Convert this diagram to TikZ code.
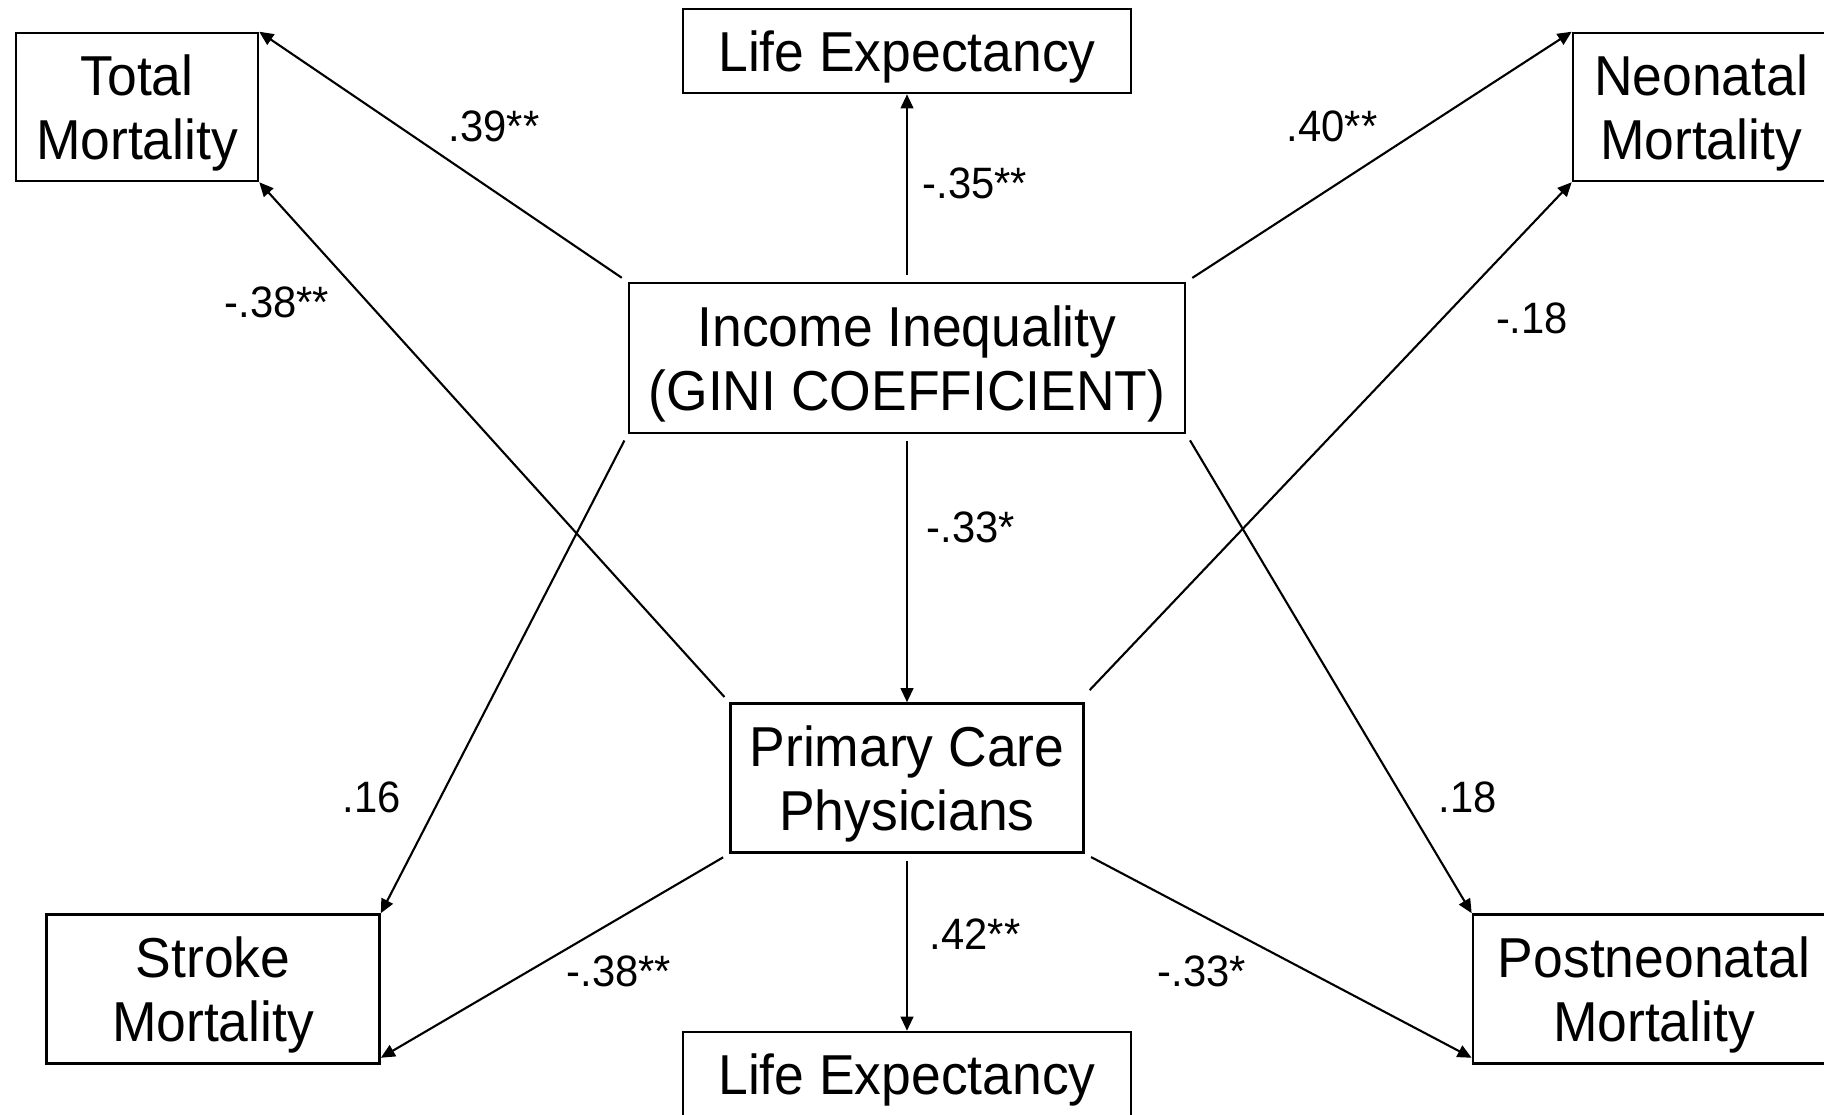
\documentclass[tikz,border=0pt]{standalone}
\usepackage{fontspec}
\setmainfont{Liberation Sans}[FakeStretch=0.95]
\usetikzlibrary{arrows.meta}

\begin{document}
\begin{tikzpicture}[x=0.01cm,y=-0.01cm,
  box/.style={draw,line width=0.7pt,align=center,inner sep=0pt,
    font=\fontsize{16}{18.2}\selectfont},
  oneline/.style={box,text height=15pt},
  twoline/.style={box,text height=33.2pt},
  link/.style={line width=0.6pt,shorten <=2pt,-{Triangle[length=4pt,width=3.6pt]}},
  coef/.style={inner sep=0pt,font=\fontsize{12.5}{15}\selectfont}]
\useasboundingbox (0,0) rectangle (1824,1114);
\clip (0,0) rectangle (1824,1114);
% boxes
\node[twoline,minimum width=2.42cm,minimum height=1.48cm] (totm) at (137,107) {Total\\Mortality};
\node[oneline,minimum width=4.48cm,minimum height=0.84cm] (lifeup) at (907,51) {Life Expectancy};
\node[twoline,minimum width=2.56cm,minimum height=1.48cm] (neom) at (1701,107) {Neonatal\\Mortality};
\node[twoline,minimum width=5.56cm,minimum height=1.50cm] (gini) at (907,358) {Income Inequality\\(GINI COEFFICIENT)};
\node[twoline,minimum width=3.53cm,minimum height=1.49cm] (pcp) at (907,778) {Primary Care\\Physicians};
\node[twoline,minimum width=3.33cm,minimum height=1.49cm] (strm) at (213,989) {Stroke\\Mortality};
\node[twoline,minimum width=3.62cm,minimum height=1.49cm] (postm) at (1654,989) {Postneonatal\\Mortality};
\node[oneline,minimum width=4.48cm,minimum height=0.84cm] (lifedown) at (907,1074) {Life Expectancy};
% paths from income inequality
\draw[link] (gini.north west) -- (totm.north east);
\draw[link] (gini.north) -- (lifeup.south);
\draw[link] (gini.north east) -- (neom.north west);
\draw[link] (gini.south) -- (pcp.north);
\draw[link] (gini.south west) -- (strm.north east);
\draw[link] (gini.south east) -- (postm.north west);
% paths from primary care
\draw[link] (pcp.north west) -- (totm.south east);
\draw[link] ([yshift=2pt]pcp.north east) -- (neom.south west);
\draw[link] (pcp.south west) -- ([yshift=2pt]strm.south east);
\draw[link] (pcp.south) -- (lifedown.north);
\draw[link] (pcp.south east) -- ([yshift=2pt]postm.south west);
% coefficients
\node[coef] (c1) at (494,126) {.39**};
\node[coef] (c2) at (277,302) {-.38**};
\node[coef] (c3) at (975,183) {-.35**};
\node[coef] (c4) at (1332,126) {.40**};
\node[coef] (c5) at (1532,318) {-.18};
\node[coef] (c6) at (971,527) {-.33*};
\node[coef] (c7) at (372,797) {.16};
\node[coef] (c8) at (1468,797) {.18};
\node[coef] (c9) at (619,971) {-.38**};
\node[coef] (c10) at (975,934) {.42**};
\node[coef] (c11) at (1202,971) {-.33*};
\end{tikzpicture}
\end{document}
